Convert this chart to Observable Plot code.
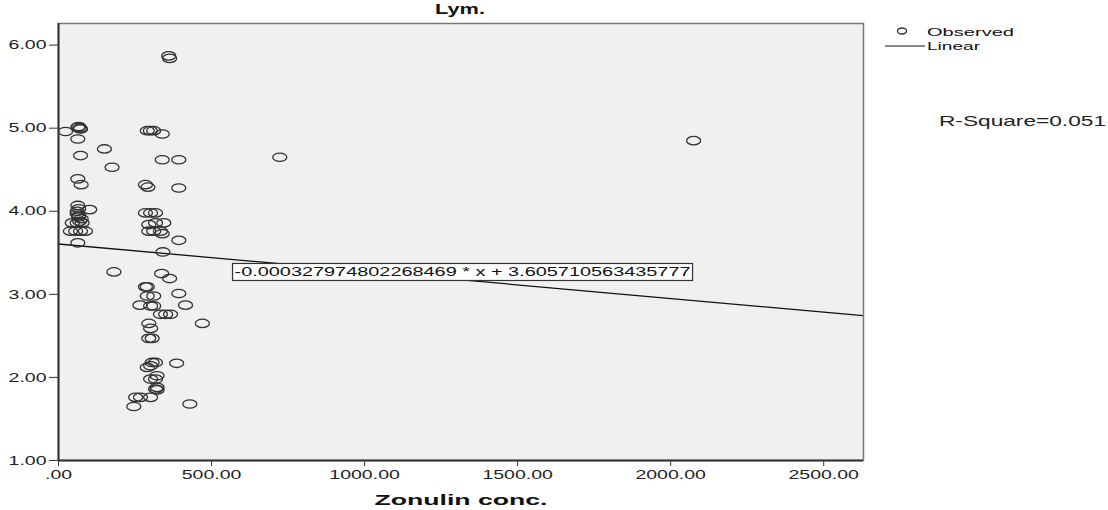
<!DOCTYPE html>
<html><head><meta charset="utf-8">
<script src="https://cdn.jsdelivr.net/npm/d3@7"></script>
<script src="https://cdn.jsdelivr.net/npm/@observablehq/plot@0.6"></script>
<style>
body{margin:0;background:#fff;}
svg{font-family:"Liberation Sans",Arial,sans-serif;}
</style>
</head><body><div id="chart"></div>
<script>
// Observed values (Zonulin conc. vs Lym.)
const zonulin = [23,63,66,70,72,63,150,72,175,63,74,
  63,66,61,102,66,74,45,61,77,39,56,72,88,63,61,66,69,181,
  360,363,290,300,311,339,339,393,723,2075,284,292,393,
  284,301,317,295,317,344,295,311,333,339,393,341,337,363,
  284,290,290,311,393,266,301,311,415,333,350,366,295,301,470,
  295,306,306,317,301,290,386,322,301,317,322,317,322,252,268,301,246,429];
const lym = [4.96,5.01,5.02,5.00,4.99,4.87,4.75,4.67,4.53,4.39,4.32,
  4.07,4.03,4.00,4.02,3.95,3.91,3.86,3.86,3.86,3.76,3.76,3.76,3.76,3.62,3.97,3.93,3.88,3.27,
  5.87,5.84,4.97,4.97,4.97,4.93,4.62,4.62,4.65,4.85,4.32,4.29,4.28,
  3.98,3.98,3.98,3.84,3.86,3.86,3.76,3.76,3.76,3.73,3.65,3.51,3.25,3.19,
  3.09,3.09,2.98,2.98,3.01,2.87,2.86,2.86,2.87,2.76,2.76,2.76,2.65,2.59,2.65,
  2.47,2.47,2.18,2.18,2.14,2.12,2.17,2.02,1.98,1.98,1.88,1.86,1.85,1.76,1.76,1.76,1.65,1.68];
const xTicks = [0,500,1000,1500,2000,2500];
const yTicks = [1,2,3,4,5,6];
const xDomain = [0,2630];
const yDomain = [1,6.26];
// Linear fit reported in the chart
const slope = -0.000327974802268469;
const intercept = 3.605710563435777;
const eqLabel = "-0.000327974802268469 * x + 3.605710563435777";
const eqAt = {x: 1320, y: 3.265};
const rSquare = "R-Square=0.051";

const points = zonulin.map((x,i)=>({x, y: lym[i]}));
const fit = xDomain.map(x=>({x, y: intercept + slope*x}));

function ellipseSymbol(rx, ry){
  const k = 0.5523;
  return {draw(ctx){
    ctx.moveTo(rx,0);
    ctx.bezierCurveTo(rx, ry*k, rx*k, ry, 0, ry);
    ctx.bezierCurveTo(-rx*k, ry, -rx, ry*k, -rx, 0);
    ctx.bezierCurveTo(-rx, -ry*k, -rx*k, -ry, 0, -ry);
    ctx.bezierCurveTo(rx*k, -ry, rx, -ry*k, rx, 0);
    ctx.closePath();
  }};
}
const fmt = d => d === 0 ? ".00" : d.toFixed(2);

const chart = Plot.plot({
  width: 1108, height: 510,
  marginLeft: 58, marginRight: 245, marginTop: 23, marginBottom: 50,
  style: {fontFamily: "Liberation Sans, Arial, sans-serif", fontSize: "13px", background: "#fff", overflow: "visible"},
  x: {domain: xDomain, ticks: xTicks},
  y: {domain: yDomain, ticks: yTicks},
  marks: [
    Plot.frame({fill: "#f0f0f0", stroke: null}),
    Plot.axisX({ticks: xTicks, tickFormat: fmt, tickSize: 6, tickPadding: 3, stroke: "#333", fill: "#222", label: null, fontSize: 13}),
    Plot.axisY({ticks: yTicks, tickFormat: d => d.toFixed(2), tickSize: 9, tickPadding: 3, stroke: "#333", fill: "#222", label: null, fontSize: 13}),
    Plot.line(fit, {x: "x", y: "y", stroke: "#111", strokeWidth: 1.3, clip: true}),
    Plot.dot(points, {x: "x", y: "y", symbol: ellipseSymbol(7, 4.2), fill: "none", stroke: "#333", strokeWidth: 1.3}),
    Plot.text([eqAt], {x: "x", y: "y", text: () => eqLabel, fontSize: 13, fill: "#111", textAnchor: "middle", className: "eq"}),
    Plot.frame({stroke: "#777", strokeWidth: 1.5}),
    Plot.ruleX([0], {stroke: "#333", strokeWidth: 2}),
    Plot.ruleY([1], {stroke: "#333", strokeWidth: 2})
  ]
});
document.getElementById("chart").appendChild(chart);
const svg = d3.select(chart);

// stretch axis tick labels horizontally like the reference
svg.selectAll("g[aria-label$='tick label'] text").each(function(){
  const w = this.getComputedTextLength();
  this.setAttribute("textLength", w*1.5);
  this.setAttribute("lengthAdjust", "spacingAndGlyphs");
});

// equation label box
svg.selectAll("g.eq text, .eq text").each(function(){
  this.setAttribute("textLength", 456);
  this.setAttribute("lengthAdjust", "spacingAndGlyphs");
  const b = this.getBBox();
  const g = this.parentNode;
  d3.select(g).insert("rect", ":first-child")
    .attr("x", b.x - 2).attr("y", b.y - 1).attr("width", b.width + 4).attr("height", b.height + 2)
    .attr("fill", "#fff").attr("stroke", "#333").attr("stroke-width", 1.2)
    .attr("transform", this.getAttribute("transform"));
});

function addText(x, y, txt, opts){
  const t = svg.append("text").attr("x", x).attr("y", y).text(txt)
    .attr("font-size", opts.size).attr("fill", opts.fill || "#111")
    .attr("text-anchor", opts.anchor || "start")
    .attr("font-weight", opts.bold ? "bold" : null);
  if (opts.len) t.attr("textLength", opts.len).attr("lengthAdjust", "spacingAndGlyphs");
  return t;
}
// title and axis label
addText(460, 14, "Lym.", {size: 15, bold: true, anchor: "middle", len: 50});
addText(461, 505, "Zonulin conc.", {size: 15, bold: true, anchor: "middle", len: 173});
// legend
svg.append("path").attr("d", ellipseSymbol(4.5, 3).draw ? (() => { const p = d3.path(); ellipseSymbol(4.5,3).draw(p); return p.toString(); })() : "")
  .attr("transform", "translate(902,31)").attr("fill", "none").attr("stroke", "#333").attr("stroke-width", 1.3);
addText(927, 35.5, "Observed", {size: 11, len: 87});
svg.append("line").attr("x1", 885).attr("x2", 925).attr("y1", 46).attr("y2", 46).attr("stroke", "#111").attr("stroke-width", 1.2);
addText(927, 50, "Linear", {size: 11, len: 53});
addText(939, 126, rSquare, {size: 15, len: 167, fill: "#222"});
</script>
</body></html>
